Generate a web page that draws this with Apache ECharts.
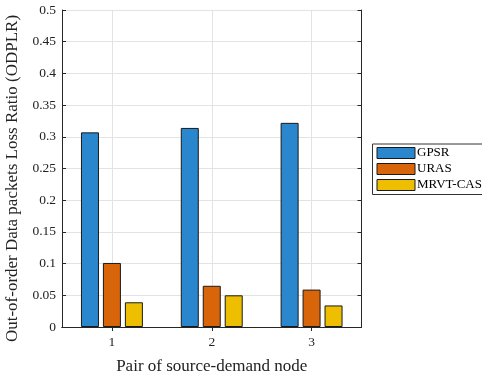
<!DOCTYPE html>
<html>
<head>
<meta charset="utf-8">
<script src="https://cdn.jsdelivr.net/npm/echarts@6/dist/echarts.min.js"></script>
<style>
  html, body { margin: 0; padding: 0; background: #fff; }
  #chart { width: 482px; height: 374px; }
</style>
</head>
<body>
<div id="chart"></div>
<script>
// Pairs of source-demand nodes
const categories = ['1', '2', '3'];
// Out-of-order data packets loss ratio per routing scheme
const gpsr = [0.307, 0.314, 0.322];
const uras = [0.101, 0.065, 0.059];
const mrvtCas = [0.039, 0.050, 0.034];
const seriesNames = ['GPSR', 'URAS', 'MRVT-CAS'];

const FONT = "'Liberation Serif', 'Times New Roman', serif";
const AXIS_COLOR = '#262626';
const GRID_COLOR = '#e3e3e3';
const colors = ['#2a87cd', '#d9650b', '#edbf00'];

const chart = echarts.init(document.getElementById('chart'), null, { renderer: 'canvas' });

const tickInside = { show: true, inside: true, length: 4, lineStyle: { color: AXIS_COLOR, width: 1 } };

const barSeries = [gpsr, uras, mrvtCas].map((vals, i) => ({
  name: seriesNames[i],
  type: 'bar',
  data: vals,
  barWidth: 18,
  barGap: '22%',
  itemStyle: { color: colors[i], borderColor: '#1a1a1a', borderWidth: 1 },
  xAxisIndex: 0,
  yAxisIndex: 0
}));

chart.setOption({
  animation: false,
  textStyle: { fontFamily: FONT },
  color: colors,
  grid: { left: 62, right: 120.5, top: 10, bottom: 47, containLabel: false, outerBoundsMode: 'none' },
  legend: {
    orient: 'vertical',
    left: 372.5,
    top: 144,
    padding: [2.5, 4, 3, 4],
    itemWidth: 38,
    itemHeight: 11,
    itemGap: 3,
    icon: 'rect',
    borderColor: '#333',
    borderWidth: 1,
    backgroundColor: '#fff',
    itemStyle: { borderColor: '#1a1a1a', borderWidth: 1 },
    textStyle: { fontFamily: FONT, fontSize: 13, color: '#000', padding: [0, 0, 0, -3] },
    data: seriesNames
  },
  xAxis: [
    {
      type: 'category',
      data: categories,
      boundaryGap: true,
      name: 'Pair of source-demand node',
      nameLocation: 'middle',
      nameGap: 31,
      nameTextStyle: { fontFamily: FONT, fontSize: 17, color: '#222' },
      axisLine: { show: true, lineStyle: { color: AXIS_COLOR, width: 1 } },
      axisTick: Object.assign({ alignWithLabel: true }, tickInside),
      axisLabel: { fontFamily: FONT, fontSize: 13.5, color: '#222', margin: 8 },
      splitLine: { show: true, alignWithLabel: true, lineStyle: { color: GRID_COLOR, width: 1 } }
    },
    {
      type: 'category',
      data: categories,
      position: 'top',
      boundaryGap: true,
      axisLine: { show: true, lineStyle: { color: AXIS_COLOR, width: 1 } },
      axisTick: Object.assign({ alignWithLabel: true }, tickInside),
      axisLabel: { show: false },
      splitLine: { show: false }
    }
  ],
  yAxis: [
    {
      type: 'value',
      min: 0,
      max: 0.5,
      interval: 0.05,
      name: 'Out-of-order Data packets Loss Ratio (ODPLR)',
      nameLocation: 'middle',
      nameGap: 35,
      nameTextStyle: { fontFamily: FONT, fontSize: 17, color: '#222', padding: [0, 20, 0, 0] },
      axisLine: { show: true, lineStyle: { color: AXIS_COLOR, width: 1 } },
      axisTick: tickInside,
      axisLabel: {
        fontFamily: FONT, fontSize: 13.5, color: '#222', margin: 6,
        formatter: v => String(parseFloat(v.toFixed(2)))
      },
      splitLine: { show: true, lineStyle: { color: GRID_COLOR, width: 1 } }
    },
    {
      type: 'value',
      position: 'right',
      min: 0,
      max: 0.5,
      interval: 0.05,
      axisLine: { show: true, lineStyle: { color: AXIS_COLOR, width: 1 } },
      axisTick: tickInside,
      axisLabel: { show: false },
      splitLine: { show: false }
    }
  ],
  series: barSeries
});
</script>
</body>
</html>
